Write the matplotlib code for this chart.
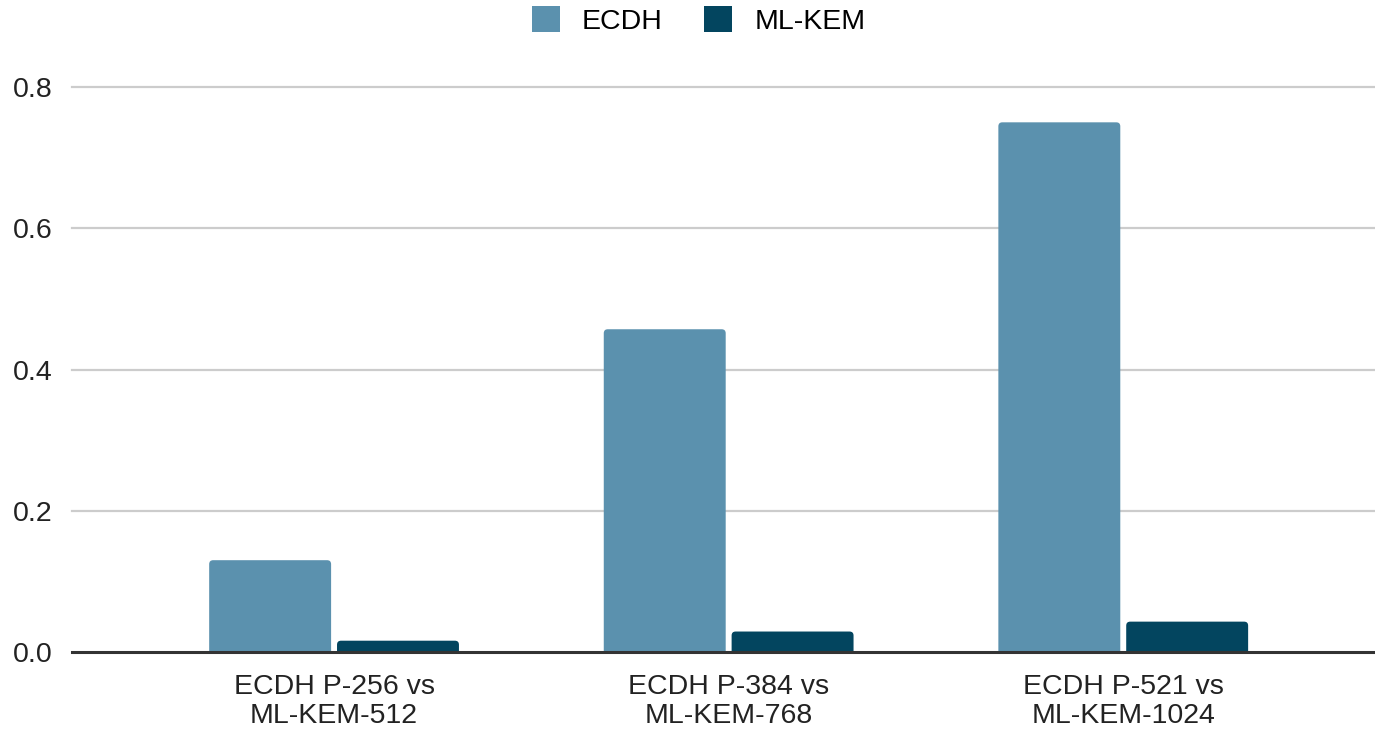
import matplotlib
matplotlib.use("Agg")
import matplotlib.pyplot as plt
import numpy as np
from matplotlib.patches import FancyBboxPatch

categories = ["ECDH P-256 vs\nML-KEM-512", "ECDH P-384 vs\nML-KEM-768", "ECDH P-521 vs\nML-KEM-1024"]
ecdh = [0.130, 0.457, 0.750]
mlkem = [0.016, 0.029, 0.043]
series_names = ["ECDH", "ML-KEM"]
colors = ["#5b91ae", "#03455f"]
yticks = [0.0, 0.2, 0.4, 0.6, 0.8]

plt.rcParams['font.family'] = ['Liberation Sans', 'DejaVu Sans']
FS = 20.5

fig = plt.figure(figsize=(13.75, 7.33), dpi=100)
ax = fig.add_axes([0.0524, 0.1105, 0.9476, 0.7708])

x = np.arange(len(categories))
w = 0.309
off = 0.162
b1 = ax.bar(x - off, ecdh, w, color=colors[0], label=series_names[0], zorder=3)
b2 = ax.bar(x + off, mlkem, w, color=colors[1], label=series_names[1], zorder=3)

# rounded top corners
xpx, ypx = 395.0, 706.0
r = 4.0 / xpx
for bars in (b1, b2):
    for p in bars:
        x0, y0 = p.get_x(), p.get_y()
        wd, ht = p.get_width(), p.get_height()
        ext = 0.02
        fb = FancyBboxPatch((x0, y0 - ext), wd, ht + ext,
                            boxstyle=f"round,pad=0,rounding_size={r}",
                            mutation_aspect=xpx / ypx,
                            facecolor=p.get_facecolor(), edgecolor='none', zorder=3)
        ax.add_patch(fb)
        p.set_visible(False)

ax.set_xlim(-0.664, 2.638)
ax.set_ylim(0, 0.8)
ax.set_yticks(yticks)
ax.set_yticklabels([f"{v:.1f}" for v in yticks])
ax.set_xticks(x)
ax.set_xticklabels(categories, linespacing=1.17)
ax.tick_params(axis='both', length=0, labelsize=FS, colors='#222222')
ax.tick_params(axis='y', pad=14)
ax.tick_params(axis='x', pad=15.5)

for s in ['top', 'right', 'left']:
    ax.spines[s].set_visible(False)
ax.spines['bottom'].set_color('#333333')
ax.spines['bottom'].set_linewidth(2.2)
ax.spines['bottom'].set_zorder(4)

for v in yticks[1:]:
    ax.axhline(v, color='#cccccc', lw=1.6, zorder=1, clip_on=False)

handles = [FancyBboxPatch((0, 0), 1, 1, boxstyle="round,pad=0,rounding_size=0.15",
                          facecolor=c, edgecolor='none') for c in colors]
handles = [plt.Rectangle((0, 0), 1, 1, facecolor=c, edgecolor='none') for c in colors]
fig.legend(handles, series_names, loc='center', bbox_to_anchor=(0.508, 0.972), ncol=2,
           frameon=False, fontsize=FS, handlelength=1.0, handleheight=1.05,
           handletextpad=0.77, columnspacing=1.44)

fig.savefig("out.png", dpi=100, facecolor='white')
